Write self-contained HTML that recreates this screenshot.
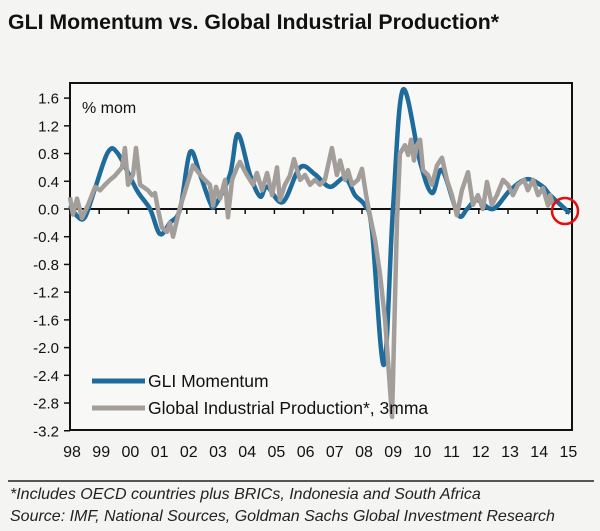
<!DOCTYPE html>
<html><head><meta charset="utf-8"><style>
body{margin:0;background:#f4f4f2;width:600px;height:531px;overflow:hidden;font-family:"Liberation Sans",sans-serif;}
</style></head><body>
<svg id="c" width="600" height="531" xmlns="http://www.w3.org/2000/svg" style="position:absolute;left:0;top:0">
<rect width="600" height="531" fill="#f4f4f2"/>
<text x="8" y="29" font-size="21.3" font-weight="bold" fill="#111">GLI Momentum vs. Global Industrial Production*</text>
<rect x="70" y="83" width="502" height="347" fill="#f8f8f7" stroke="#111" stroke-width="2"/>
<text x="82" y="113" font-size="16" fill="#111">% mom</text>
<g id="yt"></g><g id="xt"></g><g id="series"></g>
<line x1="92" y1="381" x2="145" y2="381" stroke="#1f6b9c" stroke-width="5"/>
<text x="148" y="387" font-size="17.5" fill="#111">GLI Momentum</text>
<line x1="92" y1="408" x2="145" y2="408" stroke="#a39e99" stroke-width="5"/>
<text x="148" y="414" font-size="17.5" fill="#111">Global Industrial Production*, 3mma</text>
<line x1="8" y1="481" x2="594" y2="481" stroke="#222" stroke-width="1.5"/>
<text x="10" y="499" font-size="16" font-style="italic" fill="#222">*Includes OECD countries plus BRICs, Indonesia and South Africa</text>
<text x="10" y="521" font-size="16" font-style="italic" fill="#222">Source: IMF, National Sources, Goldman Sachs Global Investment Research</text>
</svg>
<script>
const yTicks=[1.6,1.2,0.8,0.4,0.0,-0.4,-0.8,-1.2,-1.6,-2.0,-2.4,-2.8,-3.2];
const xLabels=["98","99","00","01","02","03","04","05","06","07","08","09","10","11","12","13","14","15"];
const gliYears=[1998.0,1998.24,1998.51,1998.86,1999.30,1999.64,2000.29,2000.74,2001.08,2001.42,2001.77,2002.11,2002.45,2002.79,2002.97,2003.48,2003.75,2004.16,2004.51,2004.75,2005.29,2005.88,2006.39,2006.90,2007.42,2007.76,2008.10,2008.34,2008.75,2009.06,2009.40,2010.0,2010.40,2010.74,2011.29,2011.60,2011.94,2012.49,2013.07,2013.65,2014.20,2014.44,2015.12];
const gliValues=[0.05,-0.1,-0.12,0.3,0.82,0.8,0.27,0.0,-0.36,-0.2,0.0,0.82,0.5,0.1,0.05,0.5,1.08,0.5,0.18,0.32,0.1,0.6,0.5,0.32,0.45,0.2,0.05,-0.3,-2.25,0.0,1.72,0.66,0.23,0.56,-0.08,0.0,0.13,0.0,0.27,0.43,0.32,0.2,-0.06];
const ipYears=[1998.00,1998.10,1998.24,1998.41,1998.62,1998.86,1999.03,1999.20,1999.37,1999.54,1999.78,1999.88,1999.99,2000.16,2000.26,2000.40,2000.67,2000.81,2000.91,2001.01,2001.15,2001.32,2001.42,2001.53,2001.63,2001.77,2001.90,2002.21,2002.45,2002.62,2002.79,2002.90,2003.00,2003.14,2003.31,2003.41,2003.55,2003.72,2003.82,2004.06,2004.27,2004.40,2004.58,2004.75,2004.92,2005.09,2005.19,2005.36,2005.53,2005.67,2005.88,2006.05,2006.22,2006.39,2006.56,2006.73,2006.97,2007.14,2007.25,2007.42,2007.52,2007.66,2007.86,2008.00,2008.14,2008.27,2008.45,2008.62,2008.79,2008.96,2009.03,2009.13,2009.20,2009.30,2009.47,2009.58,2009.68,2009.78,2009.88,2009.99,2010.09,2010.26,2010.40,2010.57,2010.74,2010.91,2011.08,2011.25,2011.42,2011.63,2011.80,2011.97,2012.14,2012.28,2012.45,2012.62,2012.83,2013.00,2013.17,2013.34,2013.55,2013.68,2013.86,2014.03,2014.20,2014.37,2014.44,2014.54];
const ipValues=[0.17,-0.08,0.15,-0.13,0.06,0.32,0.27,0.35,0.42,0.48,0.6,0.88,0.35,0.5,0.88,0.35,0.27,0.2,0.23,0.0,-0.27,-0.33,-0.2,-0.4,-0.22,0.03,0.2,0.63,0.5,0.42,0.35,0.05,0.32,0.15,0.42,-0.12,0.42,0.6,0.68,0.49,0.35,0.52,0.27,0.52,0.2,0.6,0.13,0.35,0.48,0.72,0.42,0.49,0.35,0.42,0.35,0.42,0.88,0.49,0.7,0.42,0.56,0.35,0.42,0.58,0.2,-0.09,-0.45,-0.95,-1.6,-2.6,-3.0,-1.3,-0.15,0.8,0.92,0.78,1.0,0.7,0.92,1.0,0.56,0.49,0.35,0.63,0.74,0.42,0.2,-0.09,0.27,0.53,0.06,0.2,0.0,0.39,0.06,0.2,0.42,0.35,0.2,0.35,0.42,0.27,0.42,0.2,0.3,0.05,0.2,0.06];
const NS="http://www.w3.org/2000/svg";
const x=yr=>70+(yr-1998)*29.2;
const y=v=>209-v*69.3;
function mk(tag,attrs,parent){const e=document.createElementNS(NS,tag);for(const k in attrs)e.setAttribute(k,attrs[k]);parent.appendChild(e);return e;}
const yt=document.getElementById('yt'),xt=document.getElementById('xt'),sg=document.getElementById('series');
yTicks.forEach(v=>{
  const t=mk('text',{x:59,y:y(v)+5.5,'font-size':15,'text-anchor':'end',fill:'#111'},yt);
  t.textContent=v.toFixed(1);
  
  
  const l=mk('line',{x1:64,x2:70,y1:y(v),y2:y(v),stroke:'#111','stroke-width':1.5},yt);
  
  
});
const zl=mk('line',{x1:70,x2:572,y1:y(0),y2:y(0),stroke:'#111','stroke-width':2},xt);


xLabels.forEach((s,i)=>{
  const t=mk('text',{x:x(1998+i)+2,y:457,'font-size':16,'text-anchor':'middle',fill:'#111'},xt);
  t.textContent=s;
  
  
  if(i>0){const k=mk('line',{x1:x(1998+i),x2:x(1998+i),y1:y(0),y2:y(0)+5,stroke:'#111','stroke-width':1.5},xt);
  
  }
});
function smooth(pts){let d=`M${pts[0][0]},${pts[0][1]}`;for(let i=0;i<pts.length-1;i++){const p0=pts[i-1]||pts[i],p1=pts[i],p2=pts[i+1],p3=pts[i+2]||p2;
d+=` C${p1[0]+(p2[0]-p0[0])/6},${p1[1]+(p2[1]-p0[1])/6} ${p2[0]-(p3[0]-p1[0])/6},${p2[1]-(p3[1]-p1[1])/6} ${p2[0]},${p2[1]}`;}return d;}
const gp=gliYears.map((t,i)=>[x(t),y(gliValues[i])]);
const g=mk('path',{d:smooth(gp),fill:'none',stroke:'#1f6b9c','stroke-width':4.5,'stroke-linejoin':'round'},sg);


const ip=mk('polyline',{points:ipYears.map((t,i)=>x(t)+','+y(ipValues[i])).join(' '),fill:'none',stroke:'#a39e99','stroke-width':4.5,'stroke-linejoin':'round'},sg);


const c=mk('circle',{cx:565,cy:211,r:13,fill:'none',stroke:'#e01010','stroke-width':2.5},sg);


</script>
</body></html>
